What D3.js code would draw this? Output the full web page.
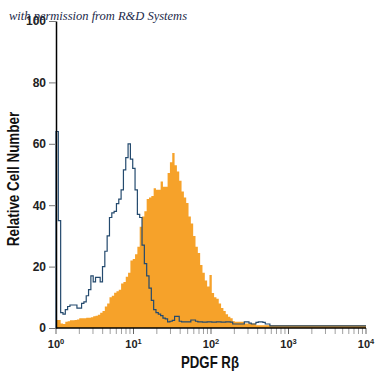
<!DOCTYPE html>
<html>
<head>
<meta charset="utf-8">
<script src="https://cdn.jsdelivr.net/npm/d3@7"></script>
<style>
  body { margin: 0; background: #fff; }
  svg { display: block; }
</style>
</head>
<body>
<svg id="svg1" width="375" height="375"></svg>
<script>
// bins are 0.03 decade wide, starting at channel 10^0
var binWidth = 0.03;
var isotype = [64, 35, 5, 4.5, 6, 7, 7.5, 7.5, 7.5, 6.5, 6.5, 8, 8.5, 10.5, 12.5, 17, 15, 16.5, 16.5, 15,
  20, 25, 30, 36, 37.5, 38, 40.5, 42, 45, 51.5, 55.5, 60, 55, 52, 45, 37, 36, 27, 21, 17,
  13, 9, 6, 5, 4.5, 4, 3.2, 3, 2, 2.2, 2.5, 3.8, 3.8, 2.2, 2, 2, 2, 2, 2.6, 2.6,
  2.2, 2, 2, 1.9, 1.9, 2, 2, 1.9, 1.9, 2, 2, 1.9, 1.9, 2, 2, 1.9, 1.3, 1.3, 1.3, 1.3,
  1.3, 2, 2, 1.6, 1.3, 1.3, 1.8, 2, 2, 1.8, 1.3, 1.3, 0.7, 0.7, 0.7, 0.7, 0.7, 0.7, 0.7, 0.7,
  0.7, 0.7, 0.7, 0.7, 0.7, 0.7, 0.7, 0.7, 0.7, 0.7, 0.7, 0.7, 0.7, 0.7, 0.7, 0.7, 0.7, 0.7, 0.7, 0.7,
  0.7, 0.7, 0.7, 0.7, 0.7, 0.7, 0.7, 0.7, 0.7, 0.7, 0.7, 0.7, 0.7, 0.7];
var stained = [2.6, 2.6, 1.5, 1.3, 2, 2.2, 2.5, 2.5, 2.6, 2.8, 3.2, 3.2, 3.2, 3.3, 3.3, 3.5, 3.8, 4, 4.3, 5,
  5.5, 7, 8, 10, 10.5, 11.5, 12, 12.5, 14.5, 15, 16.7, 18, 22, 22.5, 24, 26.5, 33, 36.3, 38, 42,
  42.5, 43, 45.5, 45, 45, 47.7, 46, 46, 50.5, 54, 57, 53, 51, 48, 44.5, 42.5, 40.7, 36.3, 34, 30,
  26.5, 24.4, 20.5, 18, 15.5, 13.5, 17.3, 11.4, 10, 9.5, 8, 6.5, 5.5, 4.5, 3.7, 3.2, 2.2, 2, 2, 2,
  2, 1.5, 1.5, 1.5, 1.5, 1.5, 0.9, 0.9, 0.9, 0.9, 0.9, 0.9, 0.9, 0.9, 0.9, 0.9, 0.9, 0.9, 0.9, 0.9,
  0.9, 0.9, 0.9, 0.9, 0.9, 0.9, 0.9, 0.9, 0.9, 0.9, 0.9, 0.9, 0.9, 0.9, 0.9, 0.9, 0.9, 0.9, 0.9, 0.9,
  0.9, 0.9, 0.9, 0.9, 0.9, 0.9, 0.9, 0.9, 0.9, 0.9, 0.9, 0.9, 0.9, 0.9];
var yTicks = [0, 20, 40, 60, 80, 100];
var decades = [0, 1, 2, 3, 4];
var xTitle = "PDGF R\u03b2";
var yTitle = "Relative Cell Number";
var note = "with permission from R&D Systems";

var svg1 = d3.select("#svg1");
var x = d3.scaleLog().domain([1, 1e4]).range([56, 366]);
var y = d3.scaleLinear().domain([0, 100]).range([328, 21]);

// turn bins into step points, clipped at 10^4
function steps(vals) {
  var pts = vals.map(function(v, i) {
    return [Math.pow(10, Math.min(4, i * binWidth)), v];
  });
  pts.push([1e4, vals[vals.length - 1]]);
  return pts;
}

var area = d3.area()
  .curve(d3.curveStepAfter)
  .x(function(d) { return x(d[0]); })
  .y0(y(0))
  .y1(function(d) { return y(d[1]); });

svg1.append("path")
  .attr("d", area(steps(stained)))
  .attr("fill", "#f6a22a");

var line = d3.line()
  .curve(d3.curveStepAfter)
  .x(function(d) { return x(d[0]); })
  .y(function(d) { return y(d[1]); });

var isoPts = [[1, 0]].concat(steps(isotype));
svg1.append("path")
  .attr("d", line(isoPts))
  .attr("fill", "none")
  .attr("stroke", "#244a6e")
  .attr("stroke-width", 1.2);

// y axis
var yAxis = svg1.append("g")
  .attr("transform", "translate(56,0)")
  .call(d3.axisLeft(y).tickValues(yTicks).tickSize(7).tickSizeOuter(0).tickPadding(3));
yAxis.select(".domain").attr("stroke", "#000").attr("stroke-width", 1.5);
yAxis.selectAll(".tick line").attr("stroke", "#777");
yAxis.selectAll(".tick text")
  .attr("font-family", "Liberation Sans, Arial, sans-serif")
  .attr("font-weight", "bold")
  .attr("font-size", 12)
  .attr("fill", "#222");

// x axis with minor log ticks
var minor = [];
decades.slice(0, 4).forEach(function(k) {
  d3.range(2, 10).forEach(function(m) { minor.push(m * Math.pow(10, k)); });
});
var xg = svg1.append("g").attr("transform", "translate(0,328)");
xg.selectAll("line.minor")
  .data(minor)
  .enter()
  .append("line")
  .attr("x1", function(d) { return x(d); })
  .attr("x2", function(d) { return x(d); })
  .attr("y1", 0)
  .attr("y2", 6)
  .attr("stroke", "#888")
  .attr("stroke-width", 0.8);
xg.selectAll("line.major")
  .data(decades)
  .enter()
  .append("line")
  .attr("x1", function(d) { return x(Math.pow(10, d)); })
  .attr("x2", function(d) { return x(Math.pow(10, d)); })
  .attr("y1", 0)
  .attr("y2", 6)
  .attr("stroke", "#666")
  .attr("stroke-width", 1);
xg.append("line")
  .attr("x1", x(1))
  .attr("x2", x(1e4))
  .attr("stroke", "#000")
  .attr("stroke-width", 1.5);

var lab = xg.selectAll("text.dec")
  .data(decades)
  .enter()
  .append("text")
  .attr("x", function(d) { return x(Math.pow(10, d)); })
  .attr("y", 20)
  .attr("text-anchor", "middle")
  .attr("font-family", "Liberation Sans, Arial, sans-serif")
  .attr("font-size", 11)
  .attr("font-weight", "bold")
  .attr("fill", "#222");
lab.append("tspan").text("10");
lab.append("tspan")
  .attr("dy", -4)
  .attr("font-size", 7.5)
  .text(function(d) { return d; });

// titles (squeezed sideways to look condensed)
svg1.append("text")
  .attr("transform", "translate(210,368) scale(0.8,1)")
  .attr("text-anchor", "middle")
  .attr("font-family", "Liberation Sans, Arial, sans-serif")
  .attr("font-weight", "bold")
  .attr("font-size", 16.5)
  .attr("fill", "#111")
  .text(xTitle);

svg1.append("text")
  .attr("transform", "translate(19,179) rotate(-90) scale(0.84,1)")
  .attr("text-anchor", "middle")
  .attr("font-family", "Liberation Sans, Arial, sans-serif")
  .attr("font-weight", "bold")
  .attr("font-size", 16)
  .attr("fill", "#111")
  .text(yTitle);

svg1.append("text")
  .attr("x", 9)
  .attr("y", 20)
  .attr("font-family", "Liberation Serif, DejaVu Serif, serif")
  .attr("font-style", "italic")
  .attr("font-size", 12.5)
  .attr("fill", "#1c2a4a")
  .text(note);
</script>
</body>
</html>
